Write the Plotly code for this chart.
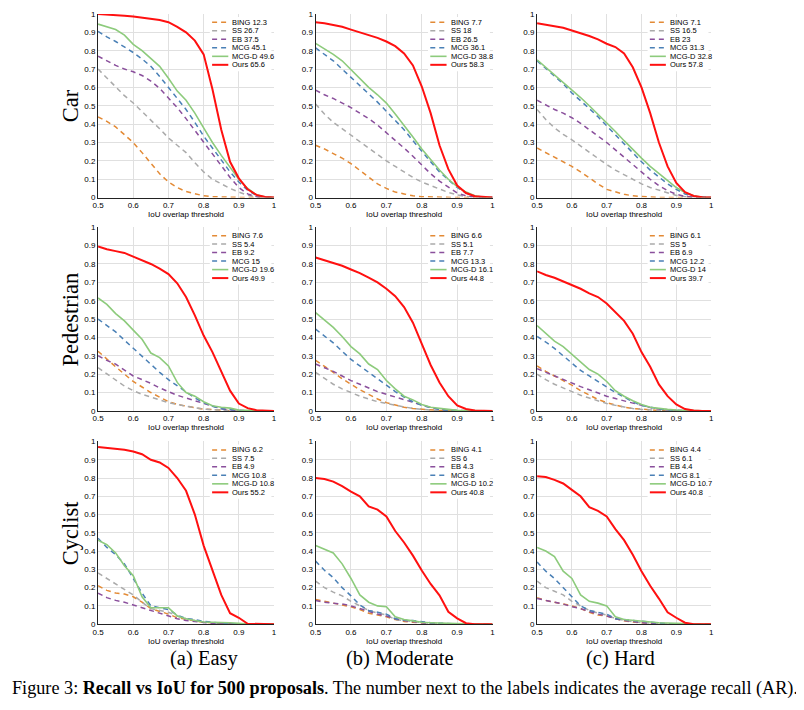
import plotly.graph_objects as go

# ---------------- data ----------------
IOU = [0.5, 0.525, 0.55, 0.575, 0.6, 0.625, 0.65, 0.675, 0.7, 0.725, 0.75,
       0.775, 0.8, 0.825, 0.85, 0.875, 0.9, 0.925, 0.95, 0.975, 1.0]

METHODS = ["BING", "SS", "EB", "MCG", "MCG-D", "Ours"]
ROWS = ["Car", "Pedestrian", "Cyclist"]
COLS = ["(a) Easy", "(b) Moderate", "(c) Hard"]

# Car
car_easy_bing = [0.44, 0.415, 0.385, 0.345, 0.30, 0.245, 0.19, 0.13, 0.085, 0.055, 0.033, 0.02, 0.01, 0.005, 0.003, 0.001, 0, 0, 0, 0, 0]
car_easy_ss = [0.70, 0.65, 0.60, 0.555, 0.515, 0.47, 0.425, 0.375, 0.325, 0.285, 0.245, 0.19, 0.14, 0.1, 0.075, 0.05, 0.03, 0.013, 0.004, 0.001, 0]
car_easy_eb = [0.77, 0.745, 0.72, 0.70, 0.685, 0.665, 0.635, 0.595, 0.545, 0.49, 0.43, 0.365, 0.3, 0.24, 0.175, 0.11, 0.055, 0.02, 0.005, 0.001, 0]
car_easy_mcg = [0.905, 0.875, 0.85, 0.82, 0.79, 0.755, 0.715, 0.66, 0.6, 0.545, 0.48, 0.41, 0.335, 0.27, 0.205, 0.14, 0.085, 0.04, 0.012, 0.002, 0]
car_easy_mcgd = [0.945, 0.93, 0.915, 0.885, 0.835, 0.80, 0.755, 0.715, 0.65, 0.58, 0.53, 0.46, 0.38, 0.3, 0.23, 0.165, 0.1, 0.05, 0.015, 0.003, 0]
car_easy_ours = [1.0, 0.998, 0.995, 0.99, 0.986, 0.98, 0.975, 0.967, 0.955, 0.93, 0.90, 0.855, 0.78, 0.59, 0.37, 0.195, 0.105, 0.045, 0.015, 0.003, 0]

car_mod_bing = [0.285, 0.265, 0.24, 0.215, 0.185, 0.15, 0.11, 0.075, 0.05, 0.03, 0.02, 0.01, 0.005, 0.003, 0.001, 0, 0, 0, 0, 0, 0]
car_mod_ss = [0.51, 0.455, 0.41, 0.375, 0.34, 0.305, 0.27, 0.235, 0.2, 0.17, 0.14, 0.11, 0.085, 0.065, 0.045, 0.028, 0.015, 0.006, 0.002, 0, 0]
car_mod_eb = [0.585, 0.56, 0.54, 0.515, 0.49, 0.46, 0.43, 0.395, 0.355, 0.315, 0.27, 0.225, 0.175, 0.13, 0.09, 0.055, 0.025, 0.01, 0.003, 0.001, 0]
car_mod_mcg = [0.815, 0.78, 0.745, 0.70, 0.655, 0.615, 0.57, 0.52, 0.47, 0.42, 0.37, 0.31, 0.25, 0.195, 0.14, 0.095, 0.055, 0.025, 0.008, 0.002, 0]
car_mod_mcgd = [0.84, 0.81, 0.78, 0.745, 0.695, 0.65, 0.6, 0.56, 0.515, 0.455, 0.395, 0.33, 0.265, 0.205, 0.15, 0.1, 0.06, 0.03, 0.01, 0.002, 0]
car_mod_ours = [0.955, 0.95, 0.94, 0.93, 0.915, 0.9, 0.885, 0.87, 0.85, 0.825, 0.785, 0.72, 0.605, 0.46, 0.285, 0.155, 0.066, 0.025, 0.008, 0.002, 0]

car_hard_bing = [0.27, 0.245, 0.22, 0.195, 0.17, 0.14, 0.105, 0.075, 0.045, 0.03, 0.018, 0.01, 0.005, 0.003, 0.001, 0, 0, 0, 0, 0, 0]
car_hard_ss = [0.48, 0.425, 0.38, 0.345, 0.315, 0.28, 0.245, 0.21, 0.18, 0.15, 0.125, 0.1, 0.075, 0.055, 0.04, 0.025, 0.012, 0.005, 0.002, 0, 0]
car_hard_eb = [0.53, 0.505, 0.48, 0.46, 0.435, 0.405, 0.37, 0.335, 0.3, 0.26, 0.22, 0.18, 0.135, 0.1, 0.065, 0.038, 0.018, 0.007, 0.002, 0, 0]
car_hard_mcg = [0.745, 0.705, 0.665, 0.62, 0.57, 0.53, 0.485, 0.44, 0.39, 0.34, 0.29, 0.245, 0.195, 0.15, 0.11, 0.075, 0.045, 0.02, 0.008, 0.002, 0]
car_hard_mcgd = [0.75, 0.71, 0.67, 0.63, 0.585, 0.545, 0.5, 0.455, 0.41, 0.36, 0.31, 0.26, 0.215, 0.17, 0.13, 0.09, 0.055, 0.028, 0.01, 0.002, 0]
car_hard_ours = [0.95, 0.943, 0.935, 0.925, 0.91, 0.897, 0.88, 0.862, 0.838, 0.82, 0.785, 0.71, 0.6, 0.46, 0.3, 0.17, 0.08, 0.03, 0.009, 0.002, 0]

# Pedestrian
ped_easy_bing = [0.325, 0.28, 0.24, 0.2, 0.16, 0.13, 0.1, 0.075, 0.05, 0.035, 0.025, 0.017, 0.01, 0.006, 0.003, 0.001, 0, 0, 0, 0, 0]
ped_easy_ss = [0.235, 0.2, 0.165, 0.135, 0.11, 0.09, 0.075, 0.06, 0.045, 0.035, 0.025, 0.017, 0.01, 0.006, 0.003, 0.001, 0, 0, 0, 0, 0]
ped_easy_eb = [0.30, 0.275, 0.255, 0.22, 0.19, 0.17, 0.15, 0.125, 0.105, 0.085, 0.07, 0.055, 0.04, 0.025, 0.012, 0.005, 0.002, 0, 0, 0, 0]
ped_easy_mcg = [0.5, 0.465, 0.43, 0.385, 0.34, 0.295, 0.25, 0.21, 0.17, 0.135, 0.1, 0.07, 0.045, 0.025, 0.012, 0.005, 0.002, 0, 0, 0, 0]
ped_easy_mcgd = [0.615, 0.58, 0.53, 0.49, 0.44, 0.39, 0.315, 0.29, 0.245, 0.155, 0.1, 0.08, 0.05, 0.028, 0.02, 0.015, 0.005, 0.002, 0, 0, 0]
ped_easy_ours = [0.895, 0.88, 0.87, 0.86, 0.84, 0.82, 0.8, 0.775, 0.745, 0.695, 0.62, 0.52, 0.41, 0.32, 0.215, 0.11, 0.04, 0.015, 0.004, 0, 0]

ped_mod_bing = [0.275, 0.24, 0.21, 0.175, 0.145, 0.115, 0.09, 0.065, 0.045, 0.032, 0.02, 0.013, 0.008, 0.004, 0.002, 0.001, 0, 0, 0, 0, 0]
ped_mod_ss = [0.21, 0.175, 0.145, 0.12, 0.1, 0.08, 0.065, 0.05, 0.04, 0.03, 0.02, 0.013, 0.008, 0.004, 0.002, 0.001, 0, 0, 0, 0, 0]
ped_mod_eb = [0.255, 0.235, 0.215, 0.19, 0.165, 0.145, 0.125, 0.105, 0.09, 0.075, 0.06, 0.045, 0.03, 0.018, 0.008, 0.003, 0.001, 0, 0, 0, 0]
ped_mod_mcg = [0.445, 0.41, 0.37, 0.325, 0.28, 0.245, 0.21, 0.175, 0.14, 0.105, 0.075, 0.05, 0.03, 0.017, 0.008, 0.003, 0.001, 0, 0, 0, 0]
ped_mod_mcgd = [0.535, 0.495, 0.455, 0.405, 0.35, 0.31, 0.255, 0.225, 0.165, 0.12, 0.08, 0.06, 0.035, 0.02, 0.012, 0.008, 0.003, 0.001, 0, 0, 0]
ped_mod_ours = [0.835, 0.82, 0.805, 0.79, 0.77, 0.75, 0.725, 0.7, 0.665, 0.625, 0.565, 0.48, 0.365, 0.25, 0.155, 0.08, 0.03, 0.01, 0.002, 0, 0]

ped_hard_bing = [0.245, 0.215, 0.19, 0.165, 0.14, 0.11, 0.085, 0.062, 0.045, 0.032, 0.02, 0.013, 0.008, 0.004, 0.002, 0.001, 0, 0, 0, 0, 0]
ped_hard_ss = [0.2, 0.17, 0.145, 0.125, 0.105, 0.085, 0.07, 0.055, 0.04, 0.03, 0.02, 0.013, 0.008, 0.004, 0.002, 0.001, 0, 0, 0, 0, 0]
ped_hard_eb = [0.23, 0.21, 0.19, 0.17, 0.15, 0.132, 0.115, 0.097, 0.08, 0.067, 0.055, 0.042, 0.028, 0.018, 0.01, 0.005, 0.002, 0, 0, 0, 0]
ped_hard_mcg = [0.405, 0.375, 0.34, 0.3, 0.255, 0.22, 0.19, 0.16, 0.13, 0.1, 0.075, 0.05, 0.03, 0.018, 0.01, 0.005, 0.002, 0, 0, 0, 0]
ped_hard_mcgd = [0.465, 0.42, 0.38, 0.35, 0.31, 0.27, 0.225, 0.2, 0.16, 0.11, 0.08, 0.055, 0.035, 0.02, 0.012, 0.008, 0.005, 0.002, 0, 0, 0]
ped_hard_ours = [0.76, 0.74, 0.725, 0.705, 0.685, 0.665, 0.64, 0.62, 0.585, 0.535, 0.49, 0.42, 0.32, 0.24, 0.144, 0.08, 0.035, 0.01, 0.002, 0, 0]

# Cyclist
cyc_easy_bing = [0.21, 0.185, 0.17, 0.165, 0.15, 0.12, 0.085, 0.07, 0.055, 0.035, 0.025, 0.018, 0.01, 0.006, 0.003, 0.001, 0, 0, 0, 0, 0]
cyc_easy_ss = [0.28, 0.25, 0.22, 0.19, 0.16, 0.12, 0.085, 0.075, 0.065, 0.045, 0.03, 0.02, 0.01, 0.006, 0.003, 0.001, 0, 0, 0, 0, 0]
cyc_easy_eb = [0.17, 0.145, 0.13, 0.12, 0.105, 0.09, 0.075, 0.06, 0.045, 0.03, 0.02, 0.014, 0.008, 0.004, 0.002, 0.001, 0, 0, 0, 0, 0]
cyc_easy_mcg = [0.47, 0.42, 0.38, 0.33, 0.25, 0.17, 0.1, 0.09, 0.08, 0.05, 0.03, 0.025, 0.015, 0.01, 0.005, 0.002, 0, 0, 0, 0, 0]
cyc_easy_mcgd = [0.46, 0.435, 0.39, 0.32, 0.265, 0.15, 0.09, 0.09, 0.09, 0.045, 0.03, 0.02, 0.012, 0.01, 0.01, 0.008, 0.005, 0, 0, 0, 0]
cyc_easy_ours = [0.97, 0.965, 0.96, 0.955, 0.945, 0.93, 0.9, 0.885, 0.855, 0.8, 0.73, 0.6, 0.43, 0.3, 0.16, 0.06, 0.035, 0.002, 0, 0, 0]

cyc_mod_bing = [0.135, 0.125, 0.115, 0.105, 0.095, 0.08, 0.06, 0.05, 0.04, 0.025, 0.015, 0.01, 0.005, 0.003, 0.001, 0, 0, 0, 0, 0, 0]
cyc_mod_ss = [0.235, 0.2, 0.175, 0.155, 0.125, 0.1, 0.075, 0.06, 0.05, 0.025, 0.018, 0.012, 0.008, 0.005, 0.002, 0.001, 0, 0, 0, 0, 0]
cyc_mod_eb = [0.13, 0.12, 0.115, 0.11, 0.1, 0.085, 0.07, 0.055, 0.045, 0.03, 0.02, 0.013, 0.008, 0.005, 0.002, 0.001, 0, 0, 0, 0, 0]
cyc_mod_mcg = [0.345, 0.295, 0.255, 0.2, 0.155, 0.105, 0.075, 0.065, 0.055, 0.03, 0.022, 0.02, 0.012, 0.008, 0.005, 0.002, 0, 0, 0, 0, 0]
cyc_mod_mcgd = [0.43, 0.41, 0.39, 0.33, 0.25, 0.16, 0.12, 0.1, 0.095, 0.04, 0.025, 0.018, 0.01, 0.008, 0.006, 0.004, 0.003, 0, 0, 0, 0]
cyc_mod_ours = [0.80, 0.795, 0.78, 0.755, 0.725, 0.7, 0.645, 0.627, 0.59, 0.51, 0.447, 0.375, 0.294, 0.22, 0.158, 0.068, 0.032, 0.005, 0, 0, 0]

cyc_hard_bing = [0.145, 0.13, 0.12, 0.11, 0.1, 0.085, 0.065, 0.05, 0.045, 0.03, 0.018, 0.012, 0.006, 0.003, 0.001, 0, 0, 0, 0, 0, 0]
cyc_hard_ss = [0.235, 0.2, 0.18, 0.16, 0.125, 0.1, 0.075, 0.06, 0.05, 0.03, 0.02, 0.013, 0.008, 0.005, 0.002, 0.001, 0, 0, 0, 0, 0]
cyc_hard_eb = [0.14, 0.13, 0.12, 0.11, 0.095, 0.085, 0.07, 0.055, 0.045, 0.03, 0.02, 0.013, 0.008, 0.005, 0.002, 0.001, 0, 0, 0, 0, 0]
cyc_hard_mcg = [0.34, 0.29, 0.25, 0.2, 0.155, 0.1, 0.075, 0.065, 0.055, 0.03, 0.025, 0.02, 0.015, 0.01, 0.005, 0.002, 0, 0, 0, 0, 0]
cyc_hard_mcgd = [0.42, 0.4, 0.37, 0.29, 0.25, 0.16, 0.125, 0.115, 0.1, 0.04, 0.025, 0.02, 0.015, 0.01, 0.008, 0.006, 0.004, 0, 0, 0, 0]
cyc_hard_ours = [0.81, 0.805, 0.79, 0.77, 0.735, 0.7, 0.64, 0.62, 0.59, 0.52, 0.46, 0.38, 0.29, 0.21, 0.14, 0.065, 0.035, 0.008, 0, 0, 0]

# average recall values shown in the legends (BING, SS, EB, MCG, MCG-D, Ours)
ar_car_easy = ["12.3", "26.7", "37.5", "45.1", "49.6", "65.6"]
ar_car_mod = ["7.7", "18", "26.5", "36.1", "38.8", "58.3"]
ar_car_hard = ["7.1", "16.5", "23", "31.3", "32.8", "57.8"]
ar_ped_easy = ["7.6", "5.4", "9.2", "15", "19.6", "49.9"]
ar_ped_mod = ["6.6", "5.1", "7.7", "13.3", "16.1", "44.8"]
ar_ped_hard = ["6.1", "5", "6.9", "12.2", "14", "39.7"]
ar_cyc_easy = ["6.2", "7.5", "4.9", "10.8", "10.8", "55.2"]
ar_cyc_mod = ["4.1", "6", "4.3", "8", "10.2", "40.8"]
ar_cyc_hard = ["4.4", "6.1", "4.4", "8.1", "10.7", "40.8"]

# ---------------- assembly ----------------
PANELS = [
    ([car_easy_bing, car_easy_ss, car_easy_eb, car_easy_mcg, car_easy_mcgd, car_easy_ours], ar_car_easy),
    ([car_mod_bing, car_mod_ss, car_mod_eb, car_mod_mcg, car_mod_mcgd, car_mod_ours], ar_car_mod),
    ([car_hard_bing, car_hard_ss, car_hard_eb, car_hard_mcg, car_hard_mcgd, car_hard_ours], ar_car_hard),
    ([ped_easy_bing, ped_easy_ss, ped_easy_eb, ped_easy_mcg, ped_easy_mcgd, ped_easy_ours], ar_ped_easy),
    ([ped_mod_bing, ped_mod_ss, ped_mod_eb, ped_mod_mcg, ped_mod_mcgd, ped_mod_ours], ar_ped_mod),
    ([ped_hard_bing, ped_hard_ss, ped_hard_eb, ped_hard_mcg, ped_hard_mcgd, ped_hard_ours], ar_ped_hard),
    ([cyc_easy_bing, cyc_easy_ss, cyc_easy_eb, cyc_easy_mcg, cyc_easy_mcgd, cyc_easy_ours], ar_cyc_easy),
    ([cyc_mod_bing, cyc_mod_ss, cyc_mod_eb, cyc_mod_mcg, cyc_mod_mcgd, cyc_mod_ours], ar_cyc_mod),
    ([cyc_hard_bing, cyc_hard_ss, cyc_hard_eb, cyc_hard_mcg, cyc_hard_mcgd, cyc_hard_ours], ar_cyc_hard),
]

COLORS = ["#E38A35", "#AAAAAA", "#8A4F9C", "#4A80B6", "#8DCB7C", "#FF1010"]
DASHES = ["5px,4px", "5px,4px", "5px,4px", "5px,4px", "solid", "solid"]
WIDTHS = [1.5, 1.5, 1.5, 1.5, 1.6, 2.0]

W, H = 804, 710
OFF = 8  # page body margin
COL_PX = [(93, 271), (313, 492), (537, 713)]
ROW_PX = [(10, 196), (226, 412), (443, 628)]
COL_LABEL_X = [200, 398, 621]


def px_x(v):
    return (v - OFF) / W


def px_y(v):
    return 1 - (v - OFF) / H


SANS = "Liberation Sans, Arial, sans-serif"
SERIF = "Liberation Serif, Times New Roman, serif"

fig = go.Figure()
layout = dict(width=W, height=H, margin=dict(l=0, r=0, t=0, b=0),
              paper_bgcolor="white", plot_bgcolor="white", showlegend=False)
shapes = []
annotations = []

for k, (series, ars) in enumerate(PANELS):
    r, c = divmod(k, 3)
    idx = k + 1
    xs = "" if idx == 1 else str(idx)
    x0p, x1p = COL_PX[c]
    y0p, y1p = ROW_PX[r]
    layout["xaxis" + xs] = dict(
        domain=[px_x(x0p), px_x(x1p)], anchor="y" + xs, range=[0.5, 1],
        tick0=0.5, dtick=0.1, showgrid=True, gridcolor="#E0E0E0", gridwidth=1,
        showline=True, linecolor="#222222", linewidth=1, zeroline=False,
        ticks="", tickfont=dict(family=SANS, size=8, color="black"),
        title=dict(text="IoU overlap threshold", font=dict(family=SANS, size=8, color="black"), standoff=0),
        fixedrange=True)
    layout["yaxis" + xs] = dict(
        domain=[px_y(y1p), px_y(y0p)], anchor="x" + xs, range=[0, 1],
        tick0=0, dtick=0.1, showgrid=True, gridcolor="#E0E0E0", gridwidth=1,
        showline=True, linecolor="#222222", linewidth=1, zeroline=False,
        ticks="", tickfont=dict(family=SANS, size=8, color="black"),
        fixedrange=True)
    for m in range(6):
        fig.add_trace(go.Scatter(
            x=IOU, y=series[m], mode="lines", name=METHODS[m],
            line=dict(color=COLORS[m], width=WIDTHS[m], dash=DASHES[m]),
            xaxis="x" + xs, yaxis="y" + xs, hoverinfo="skip"))
    # legend box (drawn as shapes + text)
    xr = "x" + xs + " domain"
    yr = "y" + xs + " domain"
    ph = y1p - y0p
    shapes.append(dict(type="rect", xref=xr, yref=yr, x0=0.635, x1=0.985,
                       y0=1 - 58 / ph, y1=1 - 3 / ph, fillcolor="white",
                       line=dict(width=0), layer="above"))
    for m in range(6):
        yy = 1 - (8.5 + 8.6 * m) / ph
        shapes.append(dict(type="line", xref=xr, yref=yr, x0=0.648, x1=0.74,
                           y0=yy, y1=yy, layer="above",
                           line=dict(color=COLORS[m], width=WIDTHS[m], dash=DASHES[m])))
        annotations.append(dict(text=f"{METHODS[m]} {ars[m]}", xref=xr, yref=yr,
                                x=0.752, y=yy, xanchor="left", yanchor="middle",
                                showarrow=False,
                                font=dict(family=SANS, size=7.5, color="black")))

# row labels
for r, name in enumerate(ROWS):
    yc = (ROW_PX[r][0] + ROW_PX[r][1]) / 2
    annotations.append(dict(text=name, xref="paper", yref="paper", x=px_x(65), y=px_y(yc),
                            xanchor="center", yanchor="middle", textangle=-90, showarrow=False,
                            font=dict(family=SERIF, size=22.5, color="black")))
# column labels
for c, name in enumerate(COLS):
    annotations.append(dict(text=name, xref="paper", yref="paper", x=px_x(COL_LABEL_X[c]), y=px_y(663),
                            xanchor="center", yanchor="middle", showarrow=False,
                            font=dict(family=SERIF, size=20.5, color="black")))
# caption
annotations.append(dict(
    text="Figure 3: <b>Recall vs IoU for 500 proposals</b>. The number next to the labels indicates the average recall (AR).",
    xref="paper", yref="paper", x=px_x(4), y=px_y(693), xanchor="left", yanchor="middle",
    showarrow=False, font=dict(family=SERIF, size=18.2, color="black")))

layout["shapes"] = shapes
layout["annotations"] = annotations
fig.update_layout(**layout)
fig.write_html("out.html")
